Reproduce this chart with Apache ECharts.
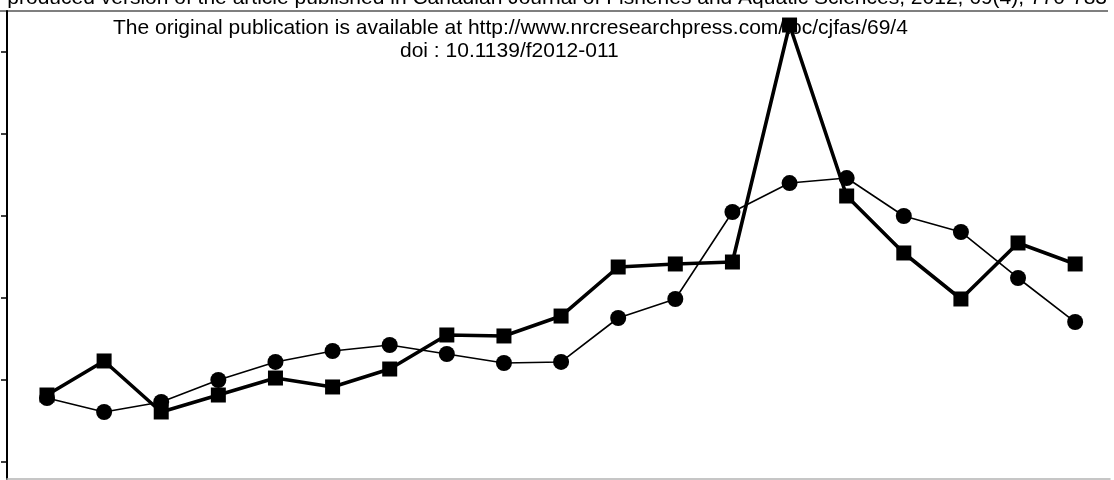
<!DOCTYPE html>
<html>
<head>
<meta charset="utf-8">
<script src="https://cdn.jsdelivr.net/npm/echarts@6/dist/echarts.min.js"></script>
<style>
html,body{margin:0;padding:0;background:#fff;}
#chart{width:1114px;height:480px;}
</style>
</head>
<body>
<div id="chart"></div>
<script>
var xValues = [1, 2, 3, 4, 5, 6, 7, 8, 9, 10, 11, 12, 13, 14, 15, 16, 17, 18, 19];
var squareSeries = [1.817, 2.232, 1.610, 1.817, 2.024, 1.915, 2.134, 2.549, 2.537, 2.780, 3.378, 3.415, 3.439, 6.329, 4.244, 3.549, 2.988, 3.671, 3.415];
var circleSeries = [1.780, 1.610, 1.732, 2.000, 2.220, 2.354, 2.427, 2.317, 2.207, 2.220, 2.756, 2.988, 4.049, 4.402, 4.463, 4.000, 3.805, 3.244, 2.707];
var yTickValues = [1, 2, 3, 4, 5, 6];
var headerLines = [
  'Author-produced version of the article published in Canadian Journal of Fisheries and Aquatic Sciences, 2012, 69(4), 770-783',
  'The original publication is available at http://www.nrcresearchpress.com/toc/cjfas/69/4',
  'doi : 10.1139/f2012-011'
];

function pairs(ys) {
  return xValues.map(function (x, i) { return [x, ys[i]]; });
}

var chart = echarts.init(document.getElementById('chart'), null, {renderer: 'canvas'});
var font = 'Liberation Sans, Arial, Helvetica, sans-serif';
chart.setOption({
  animation: false,
  backgroundColor: '#ffffff',
  grid: {left: 7, right: 4, top: 11, bottom: 1, containLabel: false},
  xAxis: {
    type: 'value', min: 0.3, max: 19.61,
    axisLine: {show: true, lineStyle: {color: '#b4b4b4', width: 1.5}},
    axisTick: {show: false}, axisLabel: {show: false}, splitLine: {show: false}
  },
  yAxis: {
    type: 'value', min: 0.7927, max: 6.5,
    axisLine: {show: true, lineStyle: {color: '#000', width: 2}},
    axisTick: {show: true, inside: false, length: 6, customValues: yTickValues, lineStyle: {color: '#000', width: 1.5}},
    axisLabel: {show: false}, splitLine: {show: false}
  },
  series: [
    {
      type: 'line', data: pairs(circleSeries), symbol: 'circle', symbolSize: 16,
      lineStyle: {color: '#000', width: 1.6}, itemStyle: {color: '#000'}, z: 2
    },
    {
      type: 'line', data: pairs(squareSeries), symbol: 'rect', symbolSize: 15,
      lineStyle: {color: '#000', width: 3.6}, itemStyle: {color: '#000'}, z: 3
    }
  ],
  graphic: [
    {type: 'text', right: 7, top: -12, z: 10,
      style: {text: headerLines[0], font: '21px ' + font, fill: '#000'}},
    {type: 'line', z: 10, shape: {x1: 0, y1: 11, x2: 1108, y2: 11}, style: {stroke: '#000', lineWidth: 1.2}},
    {type: 'text', left: 113, top: 18, z: 10,
      style: {text: headerLines[1], font: '21px ' + font, fill: '#000'}},
    {type: 'text', left: 400, top: 41, z: 10,
      style: {text: headerLines[2], font: '21px ' + font, fill: '#000'}}
  ]
});
</script>
</body>
</html>
